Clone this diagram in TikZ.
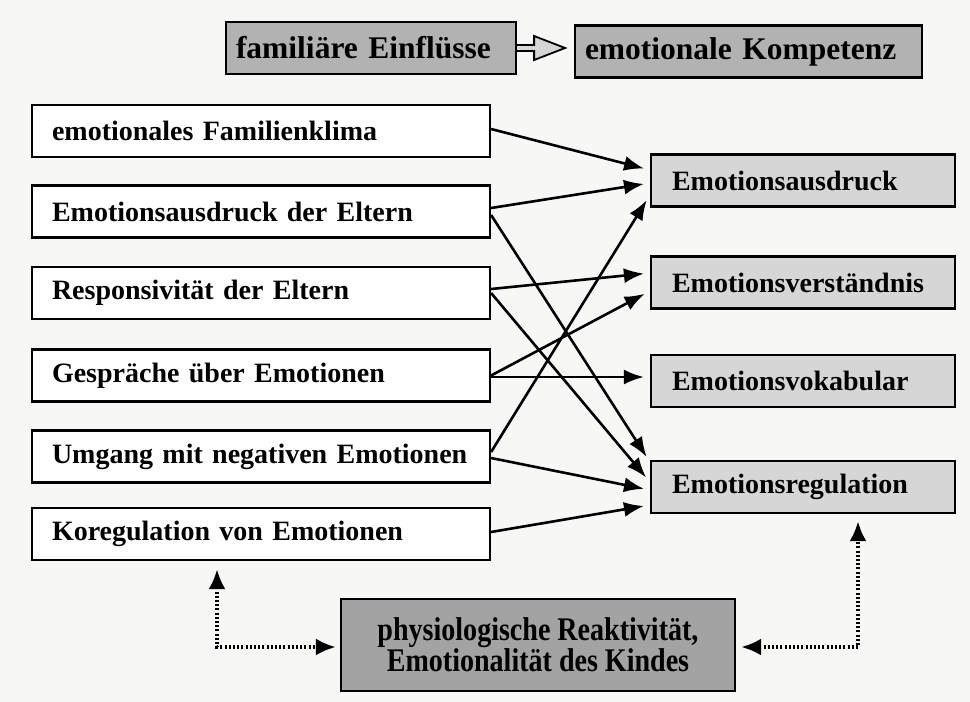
\documentclass[tikz,border=0pt]{standalone}
\usepackage{fontspec}
\setmainfont{Liberation Serif}
\newfontfamily\condfont[FakeStretch=0.85]{Liberation Serif}
\usetikzlibrary{arrows.meta,calc}
\definecolor{bgc}{HTML}{F7F7F5}
\definecolor{lightg}{HTML}{D6D6D6}
\definecolor{midg}{HTML}{B2B2B2}
\definecolor{darkg}{HTML}{A3A3A3}
\begin{document}
\begin{tikzpicture}[x=1pt,y=-1pt,
  box/.style={draw=black,line width=2.2pt,inner ysep=0pt,font=\fontsize{28pt}{32pt}\selectfont\bfseries,align=left},
  leftbox/.style={box,fill=white,minimum height=52pt,text width=424pt,inner xsep=17pt,
    execute at begin node={\hspace*{3pt}}},
  rightbox/.style={box,fill=lightg,minimum height=52pt,text width=262pt,inner xsep=21pt},
  topbox/.style={box,fill=midg,minimum height=52pt,inner xsep=10pt,font=\fontsize{31.5pt}{34pt}\selectfont\bfseries},
  conn/.style={line width=2.6pt,-{Latex[length=20pt,width=15pt]},shorten >=6pt},
  dotarrow/.style={line width=3.6pt,dash pattern=on 2pt off 2.2pt,{Latex[length=20pt,width=17pt]}-{Latex[length=20pt,width=17pt]}}
]
\fill[bgc] (0,0) rectangle (970,702);
\useasboundingbox (0,0) rectangle (970,702);

% top
\node[topbox,minimum width=290pt,text width=270pt] (fe) at (371,48) {familiäre Einflüsse};
\node[topbox,minimum width=347pt,text width=327pt] (ek) at (748.5,51.5) {emotionale Kompetenz};
\draw[line width=1.8pt,fill=lightg,line join=miter]
  ($(fe.east)+(0,3)$) -- ($(fe.east)+(17,3)$) -- ($(fe.east)+(17,12)$) -- ($(fe.east)+(48,0)$)
  -- ($(fe.east)+(17,-12)$) -- ($(fe.east)+(17,-3)$) -- ($(fe.east)+(0,-3)$);

% left
\node[leftbox] (l1) at (261,131) {emotionales Familienklima};
\node[leftbox] (l2) at (261,211.5) {Emotionsausdruck der Eltern};
\node[leftbox] (l3) at (261,293) {Responsivität der Eltern};
\node[leftbox] (l4) at (261,375.5) {Gespräche über Emotionen};
\node[leftbox] (l5) at (261,456.5) {Umgang mit negativen Emotionen};
\node[leftbox] (l6) at (261,534) {Koregulation von Emotionen};

% right
\node[rightbox] (ea) at (803,180.5) {Emotionsausdruck};
\node[rightbox] (ev) at (803,282.5) {Emotionsverständnis};
\node[rightbox] (ek2) at (803,381) {Emotionsvokabular};
\node[rightbox] (er) at (803,487) {Emotionsregulation};

% bottom
\node[draw=black,line width=2.2pt,fill=darkg,minimum width=394pt,minimum height=92pt,align=center,
  font=\condfont\fontsize{33pt}{30pt}\selectfont\bfseries] (ph) at (538,645)
  {physiologische Reaktivität,\\Emotionalität des Kindes};

% connectors
\draw[conn] ([yshift=2pt]l1.east) -- ([yshift=10.5pt]ea.west);
\draw[conn] ([yshift=3.5pt]l2.east) -- ([yshift=-2.5pt]ea.west);
\draw[conn] ([yshift=-3.5pt]l2.east) -- ([yshift=25pt]er.west);
\draw[conn] ([yshift=4pt]l3.east) -- ([yshift=9.5pt]ev.west);
\draw[conn] ([yshift=0pt]l3.east) -- ([yshift=5pt]er.west);
\draw[conn] ([yshift=0pt]l4.east) -- ([yshift=-8.5pt]ev.west);
\draw[conn] ([yshift=-1.5pt]l4.east) -- ([yshift=4pt]ek2.west);
\draw[conn] ([yshift=4.5pt]l5.east) -- ([yshift=-14.5pt]ea.west);
\draw[conn] ([yshift=-1.5pt]l5.east) -- ([yshift=-3pt]er.west);
\draw[conn] ([yshift=2pt]l6.east) -- ([yshift=-18pt]er.west);

% dotted
\draw[dotarrow,shorten <=8pt,shorten >=4pt] ([xshift=-44pt]l6.south) |- ([yshift=-2pt]ph.west);
\draw[dotarrow,shorten <=5pt,shorten >=7pt] ([yshift=-2pt]ph.east) -| ([xshift=55pt]er.south);
\end{tikzpicture}
\end{document}
